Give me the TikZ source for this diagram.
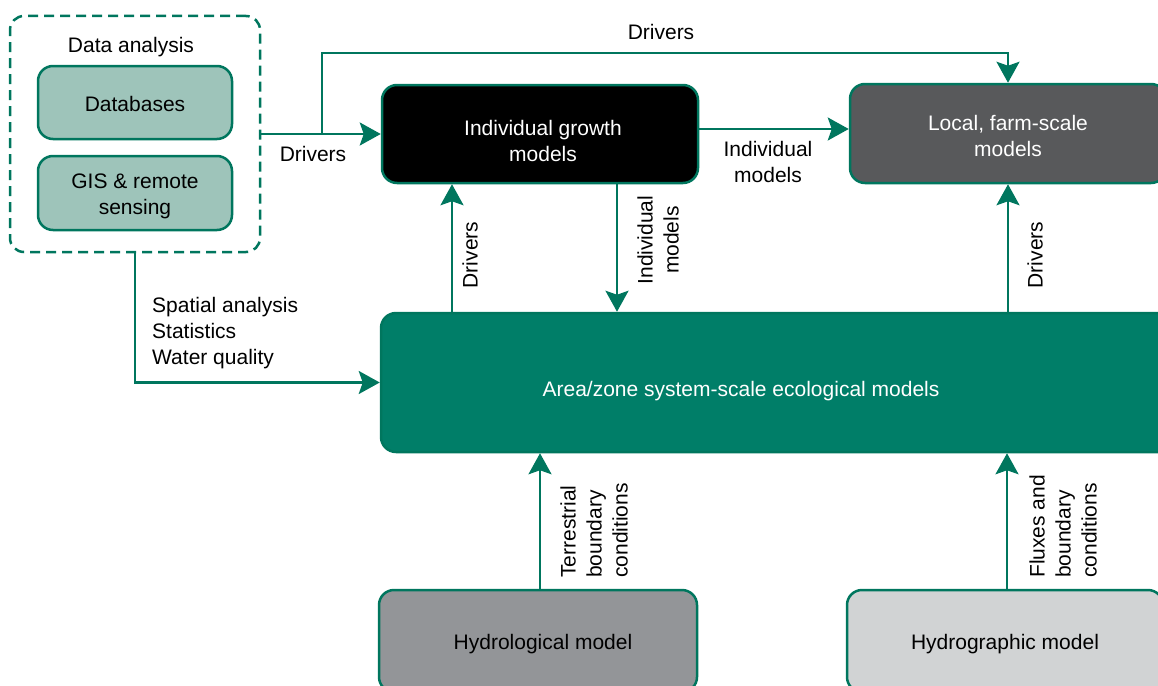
\documentclass[tikz,border=0pt]{standalone}
\usepackage{fontspec}
\setmainfont{Liberation Sans}
\usetikzlibrary{arrows.meta,calc}
\definecolor{lg}{RGB}{0,118,94}
\definecolor{areafill}{RGB}{0,126,104}
\definecolor{dbfill}{RGB}{158,196,186}
\definecolor{localfill}{RGB}{88,89,91}
\definecolor{hylfill}{RGB}{147,149,152}
\definecolor{hygfill}{RGB}{209,211,212}
% shifted box text: #1 extra left space, #2 downward shift, #3 lines
\newcommand\boxtext[3]{\hspace*{#1}\raisebox{-#2}[\height][\depth]{\begin{tabular}{@{}c@{}}#3\end{tabular}}}
\tikzset{
  every node/.style={font=\fontsize{21}{26}\selectfont},
  box/.style={draw=lg, line width=2.5pt, rounded corners=15pt, inner sep=0pt},
  dashbox/.style={draw=lg, line width=2.5pt, rounded corners=14pt, dash pattern=on 10pt off 6pt, inner sep=0pt},
  arr/.style={draw=lg, line width=2.5pt, -{Stealth[length=21pt,width=23pt,inset=4pt]}},
  lbl/.style={inner sep=0pt, align=center, text=black},
}
\begin{document}
\begin{tikzpicture}[x=1pt,y=-1pt]
\clip (0,0) rectangle (1158,685);
% boxes
\node[dashbox, minimum width=250pt, minimum height=236pt] (dash) at (135,134) {};
\node[lbl] (datitle) at (131,47) {Data analysis};
\node[box, fill=dbfill, minimum width=194pt, minimum height=73pt] (db) at (135,102.5) {\boxtext{0pt}{4pt}{Databases}};
\node[box, fill=dbfill, minimum width=194pt, minimum height=74pt] (gis) at (135,193) {\boxtext{0pt}{3pt}{GIS \& remote\\sensing}};
\node[box, fill=black, text=white, minimum width=316pt, minimum height=98pt] (indiv) at (540,134) {\boxtext{6pt}{9pt}{Individual growth\\models}};
\node[box, fill=localfill, text=white, minimum width=316pt, minimum height=99pt] (local) at (1008,133.5) {\boxtext{0pt}{5pt}{Local, farm-scale\\models}};
\node[box, fill=areafill, minimum width=794pt, minimum height=139pt] (area) at (778,382.5) {};
\node[lbl, text=white] (areatext) at (741,391) {Area/zone system-scale ecological models};
\node[box, fill=hylfill, minimum width=318pt, minimum height=102pt] (hyl) at (538,641) {\boxtext{10pt}{3pt}{Hydrological model}};
\node[box, fill=hygfill, minimum width=316pt, minimum height=102pt] (hyg) at (1005,641) {\boxtext{0pt}{3pt}{Hydrographic model}};
% connectors
\coordinate (b1) at (322,134);
\coordinate (tp) at (1008,53);
\coordinate (xa) at (617,0);
\coordinate (xb) at (452,0);
\draw[arr] (dash.east) -- (indiv.west);
\draw[arr] (b1) |- (tp) -- (local.north);
\draw[arr] ([yshift=5pt]indiv.east) -- ([yshift=5pt]indiv.east -| local.west);
\draw[arr] (indiv.south -| xa) -- (area.north -| xa);
\draw[arr] (area.north -| xb) -- (indiv.south -| xb);
\draw[arr] (area.north -| local.south) -- (local.south);
\draw[arr] (dash.south) |- (area.west);
\draw[arr] ([xshift=2pt]hyl.north) -- ([xshift=2pt]hyl.north |- area.south);
\draw[arr] ([xshift=2pt]hyg.north) -- ([xshift=2pt]hyg.north |- area.south);
% labels
\node[lbl] (l1) at (313,154) {Drivers};
\node[lbl] (l2) at (661,32) {Drivers};
\node[lbl] (l3) at (768,162) {Individual\\models};
\node[lbl, rotate=90] (l4) at (470,255) {Drivers};
\node[lbl, rotate=90] (l5) at (1035,255) {Drivers};
\node[lbl, rotate=90] (l6) at (658,240) {Individual\\models};
\node[lbl, align=left, anchor=west] (l7) at (152,333) {Spatial analysis\\Statistics\\Water quality};
\node[lbl, align=left, rotate=90, anchor=west] (l8) at (594,578) {Terrestrial\\boundary\\conditions};
\node[lbl, align=left, rotate=90, anchor=west] (l9) at (1063,578) {Fluxes and\\boundary\\conditions};
\end{tikzpicture}
\end{document}
